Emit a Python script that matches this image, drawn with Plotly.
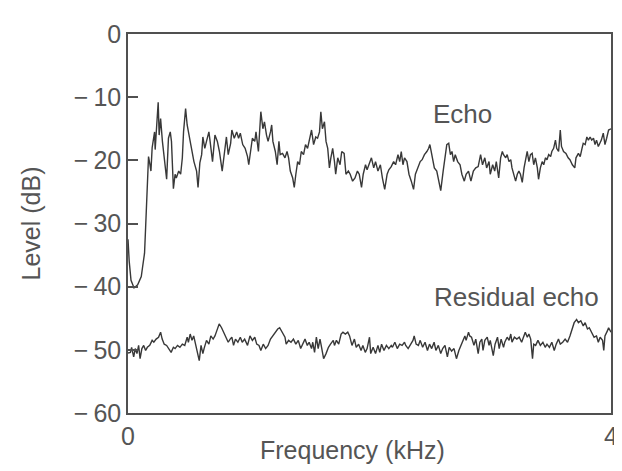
import plotly.graph_objects as go

# Echo spectrum (kHz, dB)
echo_f = [0.0, 0.01, 0.025, 0.05, 0.08, 0.11, 0.12, 0.137, 0.146, 0.156, 0.165, 0.17, 0.18, 0.19,
          0.20, 0.22, 0.225, 0.236, 0.25, 0.258, 0.27, 0.285, 0.30, 0.32, 0.335, 0.35, 0.36, 0.376,
          0.39, 0.40, 0.42, 0.436, 0.45, 0.46, 0.477, 0.49, 0.52, 0.546, 0.568, 0.58, 0.595, 0.61,
          0.62, 0.636, 0.65, 0.67, 0.68, 0.70, 0.72, 0.74, 0.757, 0.78, 0.80, 0.815, 0.83, 0.85,
          0.86, 0.88, 0.90, 0.916, 0.93, 0.95, 0.97, 0.99, 1.0, 1.015, 1.03, 1.05, 1.06, 1.08,
          1.09, 1.10, 1.117, 1.13, 1.147, 1.16, 1.18, 1.19, 1.20, 1.22, 1.235, 1.25, 1.26, 1.28,
          1.30, 1.317, 1.33, 1.344, 1.364, 1.377, 1.39, 1.405, 1.42, 1.435, 1.454, 1.47, 1.487,
          1.50, 1.52, 1.537, 1.555, 1.57, 1.586, 1.597, 1.61, 1.627, 1.64, 1.654, 1.668, 1.68,
          1.695, 1.71, 1.72, 1.737, 1.756, 1.77, 1.79, 1.805, 1.825, 1.84, 1.86, 1.88, 1.90,
          1.915, 1.934, 1.948, 1.967, 1.98, 2.0, 2.016, 2.035, 2.05, 2.07, 2.09, 2.107, 2.126,
          2.146, 2.16, 2.18, 2.20, 2.216, 2.236, 2.25, 2.263, 2.277, 2.29, 2.31, 2.327, 2.346,
          2.365, 2.38, 2.40, 2.42, 2.436, 2.455, 2.475, 2.49, 2.50, 2.52, 2.537, 2.557, 2.574,
          2.59, 2.61, 2.628, 2.64, 2.656, 2.67, 2.683, 2.697, 2.71, 2.73, 2.75, 2.765, 2.785,
          2.80, 2.82, 2.84, 2.86, 2.88, 2.90, 2.92, 2.936, 2.955, 2.97, 2.99, 3.0, 3.02, 3.037,
          3.05, 3.07, 3.086, 3.10, 3.11, 3.128, 3.14, 3.155, 3.17, 3.18, 3.197, 3.21, 3.224,
          3.237, 3.25, 3.265, 3.28, 3.29, 3.306, 3.32, 3.333, 3.347, 3.36, 3.374, 3.39, 3.40,
          3.415, 3.43, 3.443, 3.457, 3.47, 3.484, 3.5, 3.51, 3.525, 3.54, 3.55, 3.566, 3.58,
          3.59, 3.607, 3.627, 3.645, 3.66, 3.68, 3.70, 3.71, 3.73, 3.745, 3.76, 3.77, 3.786,
          3.80, 3.813, 3.827, 3.84, 3.855, 3.868, 3.88, 3.895, 3.91, 3.92, 3.936, 3.95, 3.964,
          3.98, 4.0]
echo_db = [-32.5, -36, -39, -40.2, -39.7, -38.4, -37, -34.7, -30.6, -25.9, -21.0, -19.4, -20.5, -21.7,
           -18, -15.5, -18.3, -14.4, -10.8, -16, -13.4, -17, -19.6, -23, -16.5, -15.5, -17, -24.5,
           -22.2, -22.8, -21.7, -22.2, -19.6, -15.5, -11.8, -14.4, -17.5, -20.2, -21.7, -24.3, -20.4, -19.1,
           -16.3, -18.1, -17, -15.5, -17, -20.2, -16, -17, -18.6, -21.7, -18.6, -16.3, -19.1, -17.3,
           -15.2, -16.5, -15.5, -16.5, -15.7, -17.5, -18.1, -19.4, -20.7, -18.1, -16.5, -17, -15.5, -18.6,
           -14.4, -12.3, -15, -13.9, -16, -17, -15.5, -14.4, -17, -18.6, -20.7, -17, -19.1, -18.9,
           -19.6, -18.6, -19.6, -21.7, -22.8, -24.3, -22.2, -20.2, -20.7, -18.6, -19.1, -17.5, -18.1,
           -17, -15.2, -17.5, -16.3, -16.5, -15.5, -12.3, -15, -13.9, -17, -18.1, -21.2, -19.6,
           -18.1, -20.2, -22.2, -19.6, -20.7, -18.6, -18.9, -22.2, -21.7, -22.2, -23.3, -22.8, -21.7,
           -22.2, -24.3, -22.2, -20.7, -21.5, -20.6, -19.6, -21.2, -20.2, -21.7, -20.7, -22.8, -24.6,
           -22.2, -21.5, -21, -20.2, -20.7, -19.1, -20.2, -18.6, -20.7, -19.6, -20.2, -22.2, -23.3,
           -24.6, -22.2, -21.2, -20.2, -19.9, -19.1, -18.6, -18.1, -17.5, -19.6, -21.2, -21.7, -23.3,
           -24.8, -21.7, -19.1, -17.5, -17.3, -19.1, -18.6, -20.2, -19.1, -20.2, -20.7, -22.2, -23.3,
           -22.2, -21.7, -23.3, -21.7, -21.2, -21, -19.1, -20.7, -19.6, -21.2, -20.2, -22.2, -20.7, -21.7,
           -20.2, -22.8, -19.6, -18.6, -19.1, -19.6, -19.1, -20.2, -19.9, -21.2, -22.2, -23.3, -22.2,
           -21.7, -22.2, -23.5, -21.2, -20.2, -18.6, -20.2, -19.1, -18.9, -20.7, -19.6, -21.2, -23,
           -21.2, -20.2, -20.7, -19.6, -19.9, -19.1, -19.4, -18.6, -18.1, -16.8, -18.1, -18.6, -15.2,
           -17.8, -18.6, -18.9, -19.6, -19.9, -20.7, -21.2, -19.6, -18.9, -19.4, -18.1, -17.3, -17.5,
           -16.3, -16.8, -16.3, -16.8, -16.5, -17.5, -16.8, -17.8, -17.3, -16.8, -15.7, -17.5, -16.5,
           -15.2, -15.0]

# Residual echo spectrum (kHz, dB)
resid_f = [0.0, 0.02, 0.03, 0.047, 0.06, 0.074, 0.088, 0.10, 0.115, 0.13, 0.146, 0.16, 0.18, 0.20,
           0.214, 0.233, 0.253, 0.27, 0.283, 0.30, 0.32, 0.34, 0.357, 0.376, 0.39, 0.41, 0.43,
           0.45, 0.47, 0.49, 0.50, 0.515, 0.53, 0.544, 0.557, 0.577, 0.59, 0.605, 0.62, 0.63,
           0.65, 0.67, 0.686, 0.705, 0.72, 0.735, 0.755, 0.775, 0.79, 0.81, 0.83, 0.846, 0.86,
           0.874, 0.89, 0.91, 0.93, 0.946, 0.966, 0.99, 1.01, 1.03, 1.05, 1.066, 1.085, 1.10,
           1.12, 1.14, 1.16, 1.18, 1.20, 1.22, 1.24, 1.256, 1.277, 1.30, 1.31, 1.33, 1.35, 1.37,
           1.39, 1.41, 1.43, 1.45, 1.466, 1.485, 1.50, 1.52, 1.53, 1.545, 1.56, 1.575, 1.59,
           1.60, 1.62, 1.64, 1.66, 1.677, 1.70, 1.71, 1.726, 1.745, 1.765, 1.78, 1.80, 1.82,
           1.835, 1.855, 1.875, 1.89, 1.91, 1.93, 1.945, 1.965, 1.98, 2.0, 2.01, 2.03, 2.05,
           2.07, 2.085, 2.10, 2.12, 2.14, 2.16, 2.18, 2.19, 2.21, 2.23, 2.25, 2.27, 2.29, 2.30,
           2.32, 2.34, 2.36, 2.37, 2.386, 2.405, 2.42, 2.44, 2.46, 2.48, 2.497, 2.515, 2.535,
           2.55, 2.57, 2.59, 2.606, 2.625, 2.645, 2.66, 2.68, 2.70, 2.72, 2.74, 2.756, 2.777,
           2.79, 2.80, 2.82, 2.83, 2.845, 2.865, 2.88, 2.90, 2.914, 2.93, 2.94, 2.955, 2.975,
           2.99, 3.0, 3.025, 3.04, 3.06, 3.074, 3.09, 3.11, 3.12, 3.14, 3.156, 3.17, 3.18, 3.20,
           3.22, 3.24, 3.26, 3.277, 3.29, 3.307, 3.32, 3.335, 3.35, 3.36, 3.376, 3.395, 3.415,
           3.436, 3.455, 3.47, 3.49, 3.51, 3.53, 3.546, 3.565, 3.58, 3.60, 3.62, 3.64, 3.66,
           3.675, 3.695, 3.715, 3.73, 3.75, 3.77, 3.786, 3.805, 3.82, 3.84, 3.86, 3.88, 3.895,
           3.91, 3.93, 3.94, 3.95, 3.97, 3.98, 4.0]
resid_db = [-50.5, -50.4, -49.6, -51.1, -49.8, -50.6, -49.3, -51.4, -49.8, -49.3, -50.1, -49.6, -49.3, -48.5,
            -48.8, -48.3, -48, -47.2, -48.3, -49.1, -49.3, -49.8, -50.4, -49.6, -49.8, -49.3, -49.6,
            -49.1, -49.3, -48, -48.8, -47.5, -48.5, -47.8, -48.8, -50.4, -51.7, -49.3, -50.6, -49.8,
            -48.5, -49.1, -47.8, -48.3, -47.8, -47, -45.9, -46.5, -47.2, -48, -48.8, -48.3, -48,
            -49.3, -48.3, -48.8, -48, -48.8, -48.3, -49.3, -47.8, -48.5, -48, -49.1, -49.3, -50.1,
            -49.1, -49.8, -49.3, -48.3, -47.8, -47.2, -46.7, -46.5, -47.2, -48, -49.1, -48.5, -48.8, -48.3,
            -49.1, -48.5, -49.8, -49.1, -48.3, -49.3, -48.8, -49.8, -48.8, -50.4, -48, -49.8, -48.3,
            -49.3, -51.4, -50.6, -49.6, -49.1, -48.5, -49.3, -48.5, -49.1, -47.5, -47.2, -47.5, -47.2,
            -47.8, -49.3, -48.3, -49.6, -49.1, -50.1, -49.3, -50.4, -49.8, -48, -50.6, -49.6, -50.6,
            -49.3, -50.4, -49.1, -50.1, -49.3, -49.8, -49.3, -49.6, -48.8, -49.8, -49.1, -49.3, -48.8, -49.3,
            -49.8, -49.1, -48.5, -47.8, -49.1, -49.3, -48.5, -49.6, -48.8, -50.1, -49.1, -49.8, -48.8,
            -50.1, -49.3, -50.6, -49.8, -49.3, -51.1, -49.6, -50.2, -49.8, -51.4, -50.1, -49.3, -48.5,
            -47.8, -48.5, -47.2, -47.8, -48, -49.3, -48.3, -50.6, -48.8, -48.3, -50.1, -48.5, -48,
            -49.3, -48.5, -50.9, -49.1, -48, -49.8, -48.3, -49.6, -48.8, -48, -48.5, -47.5, -48.8, -48,
            -48.3, -48, -48.8, -47.8, -47.2, -48, -47.5, -48.3, -51.4, -49.1, -49.3, -48.5, -49.3,
            -48.8, -49.6, -49.1, -49.6, -48.8, -50.1, -49.1, -48.3, -49.1, -48.8, -48.3, -48.8, -47.8,
            -47, -45.7, -45.2, -45.7, -45.4, -46.2, -45.7, -46.7, -46.5, -47.2, -48, -47.8, -48.8,
            -48, -48.5, -50.1, -47.8, -47, -46.5, -47.2]

x_ticks = [0, 4]
x_tick_labels = ["0", "4"]
y_ticks = [0, -10, -20, -30, -40, -50, -60]
y_tick_labels = ["0", "\u2212\u200910", "\u2212\u200920", "\u2212\u200930",
                 "\u2212\u200940", "\u2212\u200950", "\u2212\u200960"]

line_color = "#383838"
axis_color = "#505050"
text_color = "#555555"
font_family = "Liberation Sans, Arial, sans-serif"

fig = go.Figure()
fig.add_trace(go.Scatter(x=echo_f, y=echo_db, mode="lines", name="Echo",
                         line=dict(color=line_color, width=1.4), showlegend=False))
fig.add_trace(go.Scatter(x=resid_f, y=resid_db, mode="lines", name="Residual echo",
                         line=dict(color=line_color, width=1.4), showlegend=False))

fig.add_annotation(x=2.77, y=-12.7, text="Echo", showarrow=False,
                   font=dict(size=26, color=text_color, family=font_family))
fig.add_annotation(x=3.22, y=-41.7, text="Residual echo", showarrow=False,
                   font=dict(size=26, color=text_color, family=font_family))
# x-axis title, set slightly left of centre as in the original
fig.add_annotation(xref="paper", yref="paper", x=0.464, y=0, yshift=-37,
                   xanchor="center", yanchor="middle", text="Frequency (kHz)",
                   showarrow=False, font=dict(size=25, color=text_color, family=font_family))

fig.update_layout(
    width=622, height=471,
    margin=dict(l=120, r=17, t=21, b=66),
    paper_bgcolor="white", plot_bgcolor="white",
    font=dict(family=font_family, color=text_color, size=24),
)
fig.update_xaxes(range=[0, 4], tickvals=x_ticks, ticktext=x_tick_labels, ticks="",
                 showgrid=False, zeroline=False,
                 showline=True, mirror=True, linecolor=axis_color, linewidth=1.5,
                 tickfont=dict(size=25))
fig.update_yaxes(range=[-60, 0], tickvals=y_ticks, ticktext=y_tick_labels,
                 ticks="inside", ticklen=10, tickwidth=1.5,
                 tickcolor=axis_color, showgrid=False, zeroline=False,
                 showline=True, mirror=True, linecolor=axis_color, linewidth=1.5,
                 tickfont=dict(size=25),
                 title=dict(text="Level (dB)", font=dict(size=25), standoff=26))

fig.write_html("out.html")
